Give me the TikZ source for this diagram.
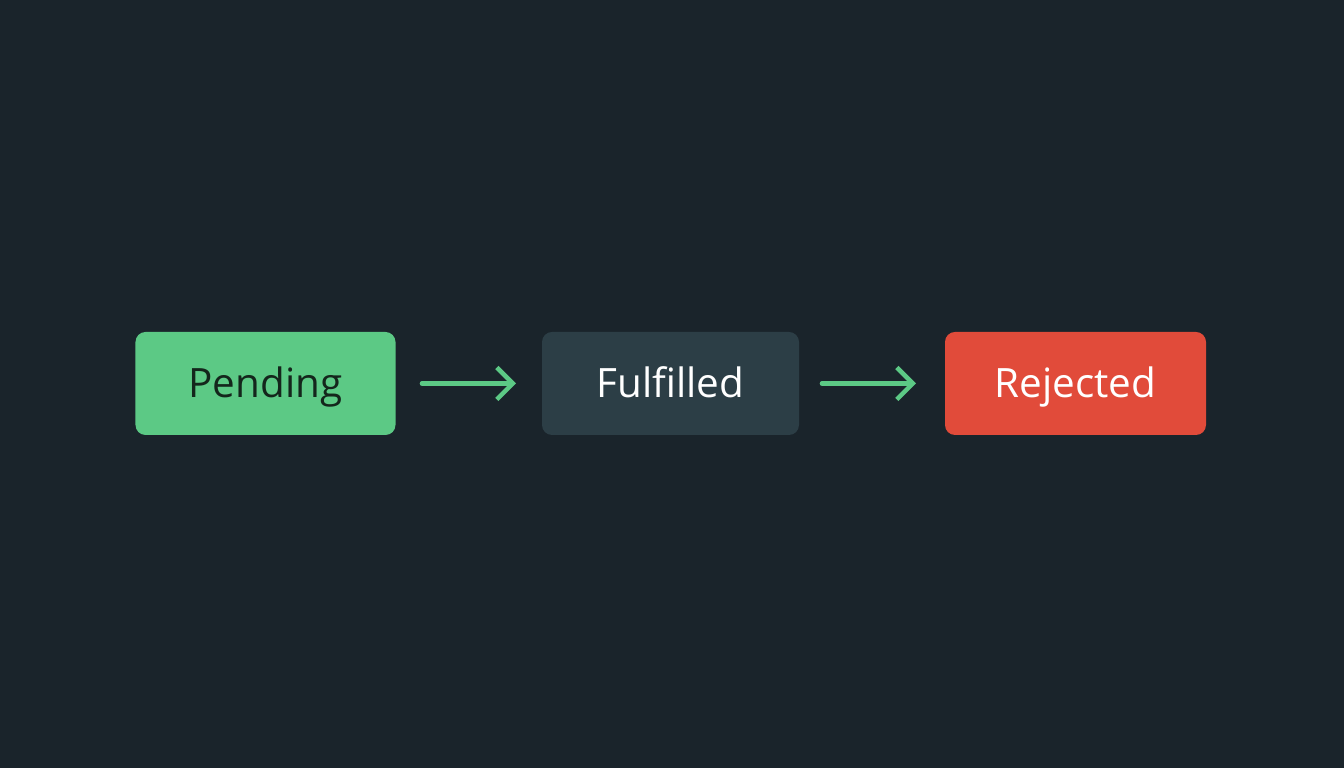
\documentclass[tikz,border=0pt]{standalone}
\usepackage{fontspec}
\setmainfont{Open Sans}
\usetikzlibrary{arrows.meta}
\definecolor{bg}{HTML}{1A242B}
\definecolor{gbox}{HTML}{5CC985}
\definecolor{dbox}{HTML}{2C3E46}
\definecolor{rbox}{HTML}{E14B3A}
\definecolor{dtext}{HTML}{14261C}
\tikzset{
  state/.style={rounded corners=0.1cm, minimum width=2.6cm, minimum height=1.03cm, inner sep=0pt, text height=0.29cm, text depth=0.01cm, font=\fontsize{11.5}{14}\selectfont},
  conn/.style={draw=gbox, line width=1.3pt, line cap=round, -{Straight Barb[length=1.6mm,width=3.2mm,line width=1.3pt]}}
}
\begin{document}
\begin{tikzpicture}
\fill[bg] (0,0) rectangle (13.44,7.68);
\useasboundingbox (0,0) rectangle (13.44,7.68);
\node[state, fill=gbox, text=dtext] (p) at (2.655,3.845) {Pending};
\node[state, fill=dbox, text=white, minimum width=2.57cm] (f) at (6.705,3.845) {Fulfilled};
\node[state, fill=rbox, text=white, minimum width=2.61cm] (r) at (10.755,3.845) {Rejected};
\coordinate (a1) at (4.22,3.845); \coordinate (a2) at (5.16,3.845);
\coordinate (b1) at (8.22,3.845); \coordinate (b2) at (9.16,3.845);
\draw[conn] (a1) -- (a2);
\draw[conn] (b1) -- (b2);
\end{tikzpicture}
\end{document}
